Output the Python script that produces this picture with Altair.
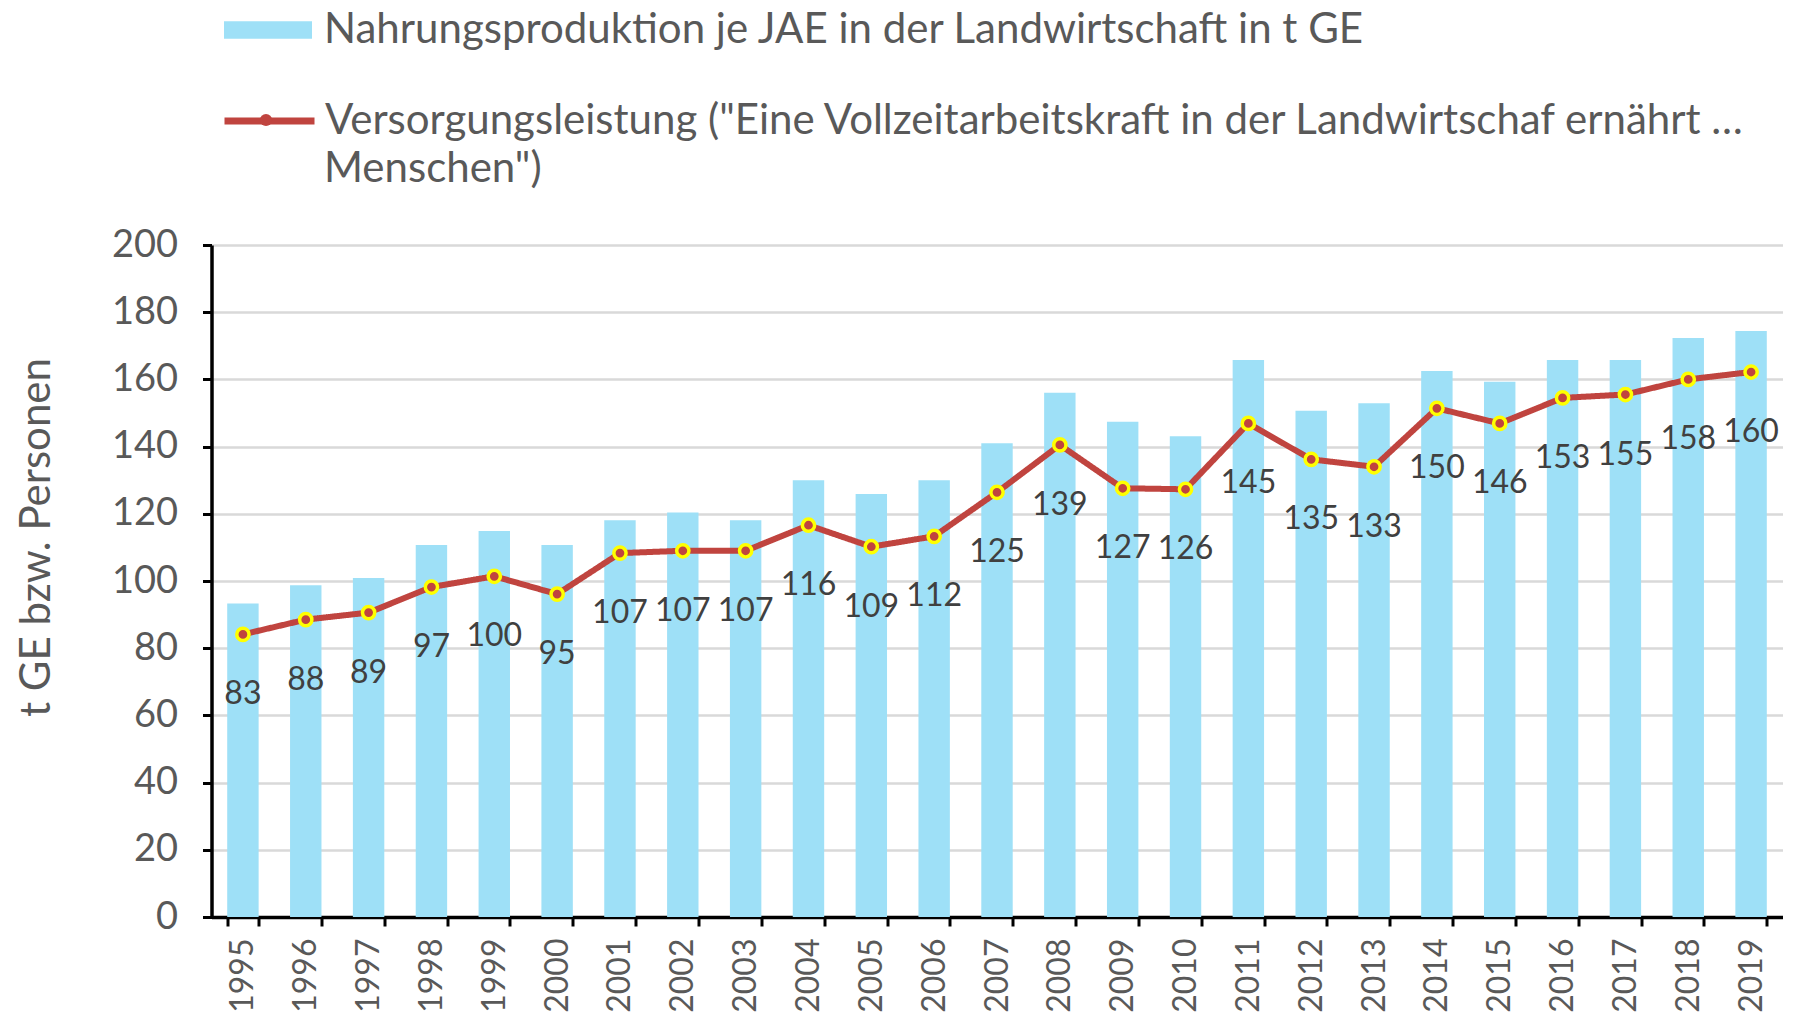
import altair as alt
import pandas as pd

years = [str(y) for y in range(1995, 2020)]
nahrung = [93.3, 98.7, 100.9, 110.7, 114.9, 110.7, 118.1, 120.4, 118.1, 130.0,
           125.9, 130.0, 141.0, 156.0, 147.4, 143.1, 165.8, 150.7, 152.9, 162.5,
           159.3, 165.8, 165.8, 172.3, 174.4]
versorgung = [84.1, 88.5, 90.6, 98.2, 101.4, 96.1, 108.3, 109.0, 109.0, 116.6,
              110.2, 113.3, 126.4, 140.5, 127.6, 127.3, 146.9, 136.2, 134.0, 151.4,
              146.9, 154.5, 155.5, 160.0, 162.2]
labels = [83, 88, 89, 97, 100, 95, 107, 107, 107, 116, 109, 112, 125, 139, 127,
          126, 145, 135, 133, 150, 146, 153, 155, 158, 160]

BAR_NAME = "Nahrungsproduktion je JAE in der Landwirtschaft in t GE"
LINE_NAME = 'Versorgungsleistung ("Eine Vollzeitarbeitskraft in der Landwirtschaf ernährt …'
LINE_NAME2 = 'Menschen")'
Y_TITLE = "t GE bzw. Personen"
y_ticks = list(range(0, 201, 20))

BLUE = "#9EE0F7"
RED = "#C0443F"
YELLOW = "#FFFF00"
GRAY = "#595959"
FONT = "Lato"
LEG_FS = 42

df = pd.DataFrame({
    "Jahr": years,
    "Nahrung": nahrung,
    "Versorgung": versorgung,
    "Label": [str(v) for v in labels],
    "s_bar": BAR_NAME,
    "s_line": LINE_NAME,
    "s_pt": "marker",
    "s_txt": LINE_NAME2,
})

x_enc = alt.X(
    "Jahr:N",
    sort=years,
    scale=alt.Scale(paddingInner=0.5, paddingOuter=0.25),
    axis=alt.Axis(
        title=None, labelAngle=270, labelFontSize=32, labelColor=GRAY,
        labelFont=FONT, labelPadding=12, tickBand="extent", tickSize=9,
        tickColor="black", tickWidth=3, domainColor="black", domainWidth=3.5,
        grid=False,
    ),
)

y_scale = alt.Scale(domain=[0, 200], nice=False)

bars = alt.Chart(df).mark_bar().encode(
    x=x_enc,
    y=alt.Y(
        "Nahrung:Q", scale=y_scale,
        axis=alt.Axis(
            title=Y_TITLE, values=y_ticks, grid=True, gridColor="#d9d9d9",
            gridWidth=2.5, tickSize=9, tickColor="black", tickWidth=3,
            domainColor="black", domainWidth=3.5, labelFontSize=38,
            labelColor=GRAY, labelFont=FONT, labelPadding=25,
            titleFontSize=42, titleColor=GRAY, titleFont=FONT,
            titleFontWeight="normal", titleX=-162.5, titleY=292,
            titleBaseline="alphabetic", titleAngle=270,
        ),
    ),
    color=alt.Color(
        "s_bar:N", scale=alt.Scale(range=[BLUE]),
        legend=alt.Legend(
            title=None, orient="none", legendX=11.5, legendY=-260, padding=0,
            symbolType="M-1,-0.2L1,-0.2L1,0.2L-1,0.2Z", symbolSize=7744,
            symbolOpacity=1, labelFontSize=LEG_FS, labelFont=FONT, labelColor=GRAY,
            labelOffset=11, labelLimit=2000,
        ),
    ),
)

line = alt.Chart(df).mark_line(strokeWidth=6, strokeJoin="round", strokeCap="round").encode(
    x=x_enc,
    y=alt.Y("Versorgung:Q", scale=y_scale),
    stroke=alt.Stroke(
        "s_line:N", scale=alt.Scale(range=[RED]),
        legend=alt.Legend(
            title=None, orient="none", legendX=9.5, legendY=-172.5, padding=0,
            symbolType="stroke", symbolSize=8100, symbolStrokeWidth=7,
            labelFontSize=LEG_FS, labelFont=FONT, labelColor=GRAY,
            labelOffset=7, labelLimit=2000,
        ),
    ),
    strokeDash=alt.StrokeDash(
        "s_txt:N", scale=alt.Scale(range=[[1, 0]]),
        legend=alt.Legend(
            title=None, orient="none", legendX=70.5, legendY=-97, padding=0,
            symbolSize=1, symbolOpacity=0, symbolStrokeWidth=0,
            labelFontSize=LEG_FS, labelFont=FONT, labelColor=GRAY,
            labelOffset=0, labelLimit=2000,
        ),
    ),
)

points = alt.Chart(df).mark_point(
    filled=True, fill=RED, stroke=YELLOW, strokeWidth=3.5, size=150, opacity=1
).encode(
    x=x_enc,
    y=alt.Y("Versorgung:Q", scale=y_scale),
    shape=alt.Shape(
        "s_pt:N", scale=alt.Scale(range=["circle"]),
        legend=alt.Legend(
            title=None, orient="none", legendX=46.5, legendY=-133, padding=0,
            symbolSize=150, symbolStrokeWidth=3.5, symbolFillColor=RED,
            symbolStrokeColor=YELLOW, symbolOpacity=1,
            labelExpr="''", labelFontSize=1, labelOffset=0,
        ),
    ),
)

texts = alt.Chart(df).mark_text(
    dy=60, fontSize=32, color="#404040", font=FONT, baseline="middle"
).encode(
    x=x_enc,
    y=alt.Y("Versorgung:Q", scale=y_scale),
    text="Label:N",
)

chart = alt.layer(bars, line, points, texts).properties(
    width=1571,
    height=672,
    padding={"left": 203.5, "top": 237, "right": 2.5, "bottom": 96},
    autosize=alt.AutoSizeParams(type="none"),
    background="white",
).configure_view(stroke=None)

chart.save("out.html", embed_options={"renderer": "svg", "actions": False})
